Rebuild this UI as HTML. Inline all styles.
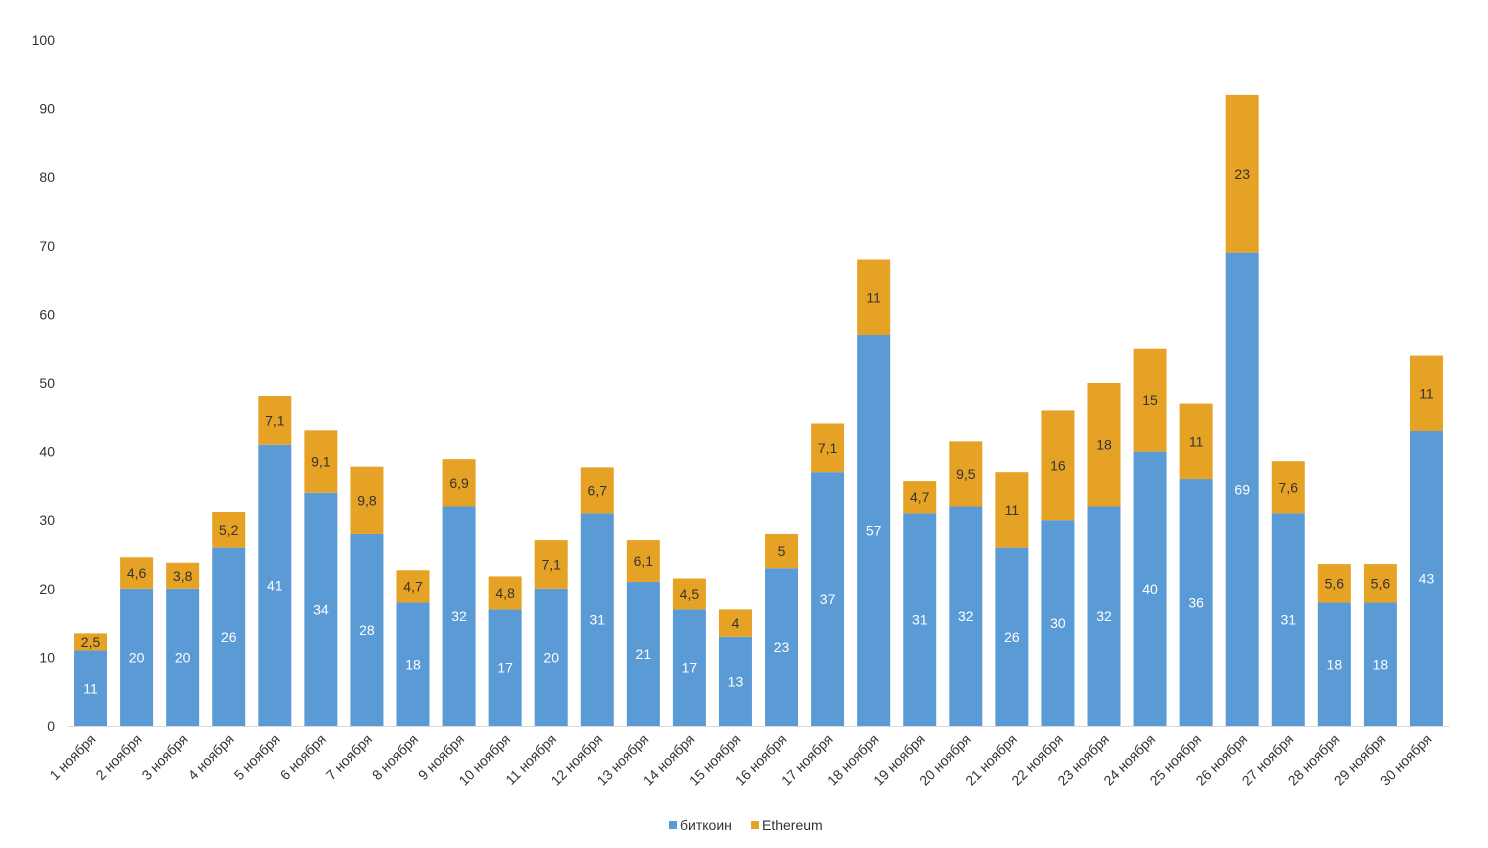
<!DOCTYPE html>
<html><head><meta charset="utf-8">
<style>
body{margin:0;background:#fff;}
svg{display:block;font-family:"Liberation Sans",sans-serif;}
</style></head>
<body>
<svg id="chart" width="1488" height="848" viewBox="0 0 1488 848" xmlns="http://www.w3.org/2000/svg"></svg>
<script>
const categories = Array.from({length:30},(_,i)=>(i+1)+' ноября');
const btcValues = [11,20,20,26,41,34,28,18,32,17,20,31,21,17,13,23,37,57,31,32,26,30,32,40,36,69,31,18,18,43];
const ethValues = [2.5,4.6,3.8,5.2,7.1,9.1,9.8,4.7,6.9,4.8,7.1,6.7,6.1,4.5,4,5,7.1,11,4.7,9.5,11,16,18,15,11,23,7.6,5.6,5.6,11];
const yTicks = [0,10,20,30,40,50,60,70,80,90,100];

const svg = document.getElementById('chart');
const NS = 'http://www.w3.org/2000/svg';
const y0 = 726, y100 = 40, left = 67.5, right = 1449.5;
const y = v => y0 - (y0 - y100) * v / 100;
const step = (right - left) / categories.length;
const xc = i => left + step * (i + 0.5);
const bw = 33;
function mk(tag, attrs, text){
  const e = document.createElementNS(NS, tag);
  for (const k in attrs) e.setAttribute(k, attrs[k]);
  if (text !== undefined) e.textContent = text;
  svg.appendChild(e);
  return e;
}
const fmt = v => String(v).replace('.', ',');

yTicks.forEach(t => {
  const e = mk('text', {x:55, y:y(t)+5, 'text-anchor':'end', 'font-size':14, fill:'#333'}, t);
  
  
});
const axis = mk('line', {x1:left, x2:right, y1:y0+0.5, y2:y0+0.5, stroke:'#d9d9d9', 'stroke-width':1});



categories.forEach((c, i) => {
  const cx = xc(i);
  const b = btcValues[i], e = ethValues[i];
  const r1 = mk('rect', {x:cx-bw/2, y:y(b), width:bw, height:y(0)-y(b), fill:'#5B9BD5'});
  
  
  const r2 = mk('rect', {x:cx-bw/2, y:y(b+e), width:bw, height:y(b)-y(b+e), fill:'#E6A224'});
  
  
  const l1 = mk('text', {x:cx, y:(y(0)+y(b))/2+5, 'text-anchor':'middle', 'font-size':14, fill:'#fff'}, fmt(b));
  
  
  const l2 = mk('text', {x:cx, y:(y(b)+y(b+e))/2+5, 'text-anchor':'middle', 'font-size':14, fill:'#333'}, fmt(e));
  
  
  const xl = mk('text', {x:0, y:0, 'text-anchor':'end', 'font-size':14, fill:'#333', transform:`translate(${cx+6},${y0+14}) rotate(-45)`}, c);
  
  
});

const lg1 = mk('rect', {x:669, y:821, width:8, height:8, fill:'#5B9BD5'});


const lt1 = mk('text', {x:680, y:830, 'font-size':14, fill:'#333'}, 'биткоин');


const lg2 = mk('rect', {x:751, y:821, width:8, height:8, fill:'#E6A224'});


const lt2 = mk('text', {x:762, y:830, 'font-size':14, fill:'#333'}, 'Ethereum');


</script>
</body></html>
